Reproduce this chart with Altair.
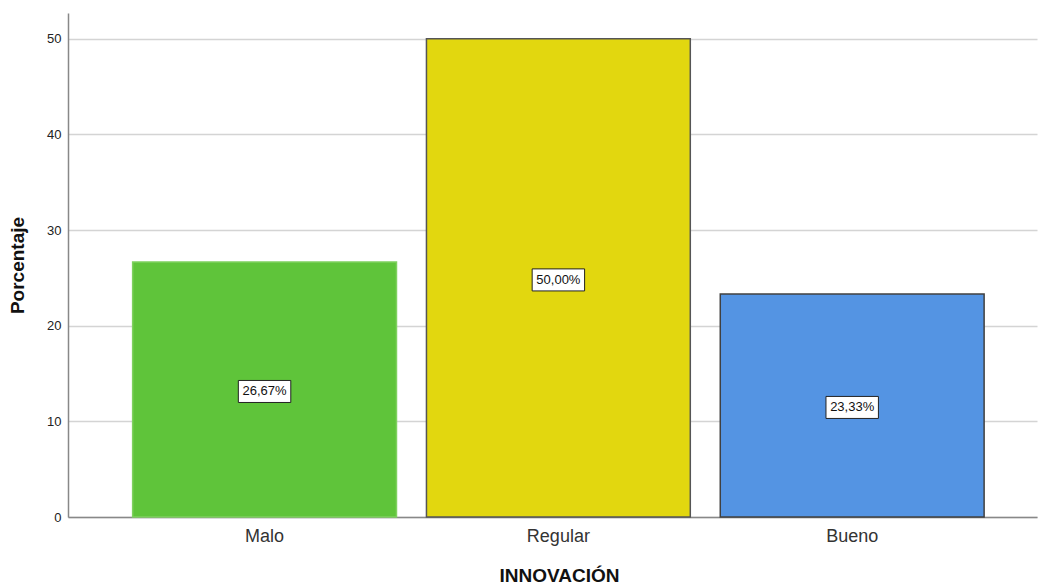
import altair as alt
import pandas as pd

# Percentage of responses per rating category
categorias = ["Malo", "Regular", "Bueno"]
porcentajes = [26.67, 50.00, 23.33]
etiquetas = ["26,67%", "50,00%", "23,33%"]
colores = ["#5fc43a", "#e2d70f", "#5494e3"]
bordes = ["#7fd15f", "#555555", "#404040"]

df = pd.DataFrame({
    "categoria": categorias,
    "porcentaje": porcentajes,
    "etiqueta": etiquetas,
    "color": colores,
    "borde": bordes,
})
df["mitad"] = df["porcentaje"] / 2

FONT = "Liberation Sans"

x_enc = alt.X(
    "categoria:N",
    sort=categorias,
    scale=alt.Scale(paddingInner=0.102, paddingOuter=0.2, align=0.55),
    axis=alt.Axis(
        title="INNOVACIÓN",
        labelAngle=0,
        labelFontSize=18,
        labelColor="#333333",
        labelPadding=10,
        labelFont=FONT,
        ticks=False,
        domainColor="#888888",
        domainWidth=1.5,
        titleFont=FONT,
        titleFontSize=19,
        titleFontWeight="bold",
        titleColor="#111111",
        titleX=491,
        titleY=58,
        titleBaseline="middle",
        titleAlign="center",
        grid=False,
    ),
)

y_scale = alt.Scale(domain=[0, 52.7], nice=False)

bars = alt.Chart(df).mark_bar(strokeWidth=1.5).encode(
    x=x_enc,
    y=alt.Y(
        "porcentaje:Q",
        scale=y_scale,
        axis=alt.Axis(
            title="Porcentaje",
            values=[0, 10, 20, 30, 40, 50],
            labelFontSize=13,
            labelColor="#222222",
            labelFont=FONT,
            labelPadding=7,
            ticks=False,
            domainColor="#888888",
            domainWidth=1.5,
            gridColor="#d4d4d4",
            gridWidth=1.5,
            titleFont=FONT,
            titleFontSize=19,
            titleFontWeight="bold",
            titleColor="#111111",
            titleAngle=270,
            titleX=-51,
            titleY=252,
            titleAlign="center",
            titleBaseline="middle",
        ),
    ),
    color=alt.Color("color:N", scale=None),
    stroke=alt.Stroke("borde:N", scale=None),
)

# White boxed value labels at mid-height of each bar
cajas = alt.Chart(df).mark_point(
    shape="M-1,-0.42L1,-0.42L1,0.42L-1,0.42Z",
    size=2750,
    filled=True,
    fill="white",
    stroke="#222222",
    strokeWidth=1,
    opacity=1,
    yOffset=2,
).encode(
    x=alt.X("categoria:N", sort=categorias),
    y=alt.Y("mitad:Q", scale=y_scale),
)

textos = alt.Chart(df).mark_text(
    font=FONT, fontSize=13, color="#111111", baseline="middle", align="center",
    dy=2,
).encode(
    x=alt.X("categoria:N", sort=categorias),
    y=alt.Y("mitad:Q", scale=y_scale),
    text="etiqueta:N",
)

chart = alt.layer(bars, cajas, textos).properties(
    width=969,
    height=504,
    autosize=alt.AutoSizeParams(type="none"),
    padding={"left": 68, "top": 13, "right": 2, "bottom": 68},
    background="white",
).configure_view(stroke=None)

chart.save("out.html", embed_options={"renderer": "svg", "actions": False})
